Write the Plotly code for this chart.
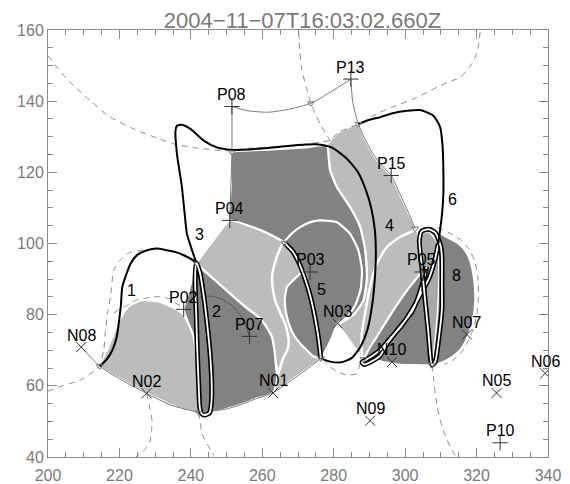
import plotly.graph_objects as go

TITLE = "2004\u221211\u221207T16:03:02.660Z"

# ---------------- shaded regions (data coordinates) ----------------
light_band4_x = [278.1, 279.0, 281.3, 284.0, 286.9, 288.5, 290.5, 293.0, 296.1, 298.5, 300.8, 302.8, 298.6, 294.9, 292.1, 290.2, 288.8, 287.9, 287.9, 288.3, 286.0, 283.5, 281.1, 285.5, 288.3, 289.3, 288.8, 287.4, 284.6, 280.9, 279.0, 278.6, 278.1]
light_band4_y = [127.5, 128.9, 131.2, 132.6, 133.6, 130.0, 126.0, 122.5, 119.1, 114.0, 109.0, 104.2, 101.8, 99.0, 94.3, 87.8, 80.3, 74.7, 69.1, 67.5, 70.5, 74.0, 77.5, 80.0, 84.0, 90.6, 98.1, 104.6, 110.2, 115.8, 120.5, 124.0, 127.5]

dark_top_x = [251.5, 258.0, 265.0, 272.0, 278.1, 278.6, 279.0, 280.9, 284.6, 287.4, 288.8, 289.3, 288.3, 285.5, 281.1, 276.0, 266.2, 260.5, 255.5, 250.9, 251.2, 251.5]
dark_top_y = [125.6, 126.2, 126.6, 127.0, 127.5, 124.0, 120.5, 115.8, 110.2, 104.6, 98.1, 90.6, 84.0, 80.0, 77.5, 85.0, 100.2, 103.3, 105.2, 106.5, 116.0, 125.6]

dark_circle5_x = [266.2, 268.5, 270.6, 273.5, 276.2, 280.9, 284.6, 286.9, 287.9, 287.6, 286.2, 284.0, 281.1, 279.5, 277.8, 276.4, 275.8, 274.8, 273.5, 272.0, 270.3, 268.5, 266.2]
dark_circle5_y = [100.2, 103.0, 104.6, 106.0, 106.5, 106.0, 102.7, 98.1, 92.5, 87.5, 83.0, 79.5, 77.5, 73.5, 70.0, 67.7, 73.0, 79.0, 85.0, 90.0, 94.5, 97.8, 100.2]

light_mid_x = [241.7, 246.0, 250.9, 255.5, 260.5, 266.2, 268.5, 270.3, 272.0, 273.5, 274.8, 275.8, 276.4, 273.0, 268.0, 263.0, 264.3, 263.6, 262.7, 259.4, 255.5, 252.0, 247.5, 243.0, 241.7]
light_mid_y = [94.3, 100.5, 106.5, 105.2, 103.3, 100.2, 97.8, 94.5, 90.0, 85.0, 79.0, 73.0, 67.7, 65.0, 61.5, 58.0, 62.5, 68.1, 73.7, 78.9, 82.0, 85.0, 89.0, 93.0, 94.3]

dark_blob5_x = [271.8, 270.6, 268.5, 266.9, 266.3, 266.4, 267.0, 267.8, 269.0, 270.6, 272.5, 274.3, 276.2, 275.9, 275.2, 274.2, 273.2, 272.5, 271.8]
dark_blob5_y = [92.3, 91.5, 89.5, 87.8, 84.5, 82.2, 79.0, 76.5, 74.0, 71.9, 70.0, 68.3, 67.8, 71.5, 76.5, 81.5, 86.0, 89.5, 92.3]

dark_left_x = [241.7, 243.0, 247.5, 252.0, 255.5, 259.4, 261.5, 262.7, 263.4, 263.6, 264.0, 264.3, 263.0, 258.0, 254.8, 250.0, 245.5, 242.2, 242.0, 241.5, 240.8, 239.5, 238.0, 239.2, 240.5, 241.7]
dark_left_y = [94.3, 93.0, 89.0, 85.0, 82.0, 78.9, 76.0, 73.7, 70.0, 68.1, 64.0, 62.5, 58.0, 56.3, 55.0, 53.5, 52.7, 52.5, 60.0, 68.0, 73.7, 77.0, 81.5, 86.0, 90.5, 94.3]

light_dome_x = [214.5, 216.5, 218.5, 220.0, 222.5, 226.0, 231.0, 235.5, 238.0, 239.5, 240.8, 241.5, 242.0, 242.2, 238.0, 234.3, 230.5, 226.8, 220.0, 214.5]
light_dome_y = [65.5, 70.0, 75.0, 78.5, 82.3, 84.0, 83.7, 81.8, 80.0, 77.0, 73.7, 68.0, 60.0, 52.5, 53.3, 54.6, 56.5, 58.3, 62.0, 65.5]

dark_circle8_x = [303.3, 306.1, 308.5, 311.7, 314.5, 316.8, 318.3, 319.1, 319.6, 319.6, 319.1, 318.2, 317.0, 315.4, 313.0, 310.7, 307.5, 302.3, 298.0, 295.8, 291.1, 288.3, 287.9, 287.9, 288.8, 290.2, 292.1, 294.9, 298.6, 303.3]
dark_circle8_y = [103.7, 103.9, 103.5, 101.8, 100.3, 98.1, 95.0, 91.5, 87.0, 83.1, 79.0, 75.6, 72.5, 70.0, 68.0, 66.7, 65.8, 65.8, 66.0, 66.3, 67.2, 67.5, 69.1, 74.7, 80.3, 87.8, 94.3, 99.0, 101.8, 103.7]

light_part7_x = [303.3, 298.6, 294.9, 292.1, 290.2, 288.8, 287.9, 287.9, 288.3, 290.2, 292.5, 294.9, 297.5, 300.5, 303.0, 305.0, 304.5, 303.8, 303.3]
light_part7_y = [103.7, 101.8, 99.0, 94.3, 87.8, 80.3, 74.7, 69.1, 67.5, 70.9, 74.5, 78.4, 82.5, 86.8, 90.0, 92.5, 97.0, 101.0, 103.7]

light_spindle_x = [304.6, 305.0, 305.6, 306.3, 307.5, 308.6, 309.3, 309.4, 308.6, 306.5, 304.6]
light_spindle_y = [102.5, 95.0, 85.0, 75.0, 66.0, 75.0, 85.0, 95.0, 101.0, 103.3, 102.5]

white_scurve_x = [265.5, 263.8, 262.7, 263.0, 263.6, 265.0, 266.4, 267.4, 267.0, 266.0, 264.8, 264.1]
white_scurve_y = [99.8, 95.5, 90.6, 87.0, 84.0, 80.5, 77.5, 72.8, 70.0, 68.1, 64.5, 61.6]

# ---------------- thin grey connection lines ----------------
thin_n08_x = [209.3, 214.5, 220.0, 227.6, 234.3, 242.2]
thin_n08_y = [70.9, 65.5, 62.0, 57.9, 54.6, 52.5]
thin_p08_x = [251.5, 251.5, 251.2, 250.9]
thin_p08_y = [138.5, 125.6, 116.0, 106.5]
thin_arc_x = [251.5, 256.0, 261.8, 267.8, 273.6, 279.0, 284.8]
thin_arc_y = [138.5, 137.3, 136.9, 137.8, 139.4, 142.5, 146.2]
thin_p13_x = [284.8, 285.3, 286.9, 290.5, 293.0, 296.1, 298.5, 300.8, 302.8]
thin_p13_y = [146.2, 140.0, 133.6, 126.0, 122.5, 119.1, 114.0, 109.0, 104.2]
thin_bottom_x = [242.2, 250.0, 254.8, 258.0, 263.0, 268.0, 273.0, 276.4]
thin_bottom_y = [52.5, 53.5, 55.0, 56.3, 58.0, 61.5, 65.0, 67.7]
thin_p07_x = [242.7, 245.5, 248.3, 252.0, 254.8, 256.4]
thin_p07_y = [85.0, 85.2, 84.5, 82.2, 78.4, 73.9]

# ---------------- dashed grey lines ----------------
dash_topleft_x = [200.0, 205.0, 211.9, 217.0, 223.1, 229.0, 235.2, 242.0, 249.2, 251.5, 258.0, 265.0, 272.0, 279.0]
dash_topleft_y = [152.8, 146.5, 140.1, 135.8, 132.6, 130.2, 128.0, 126.8, 126.1, 126.3, 126.9, 127.3, 127.9, 128.9]
dash_topright_x = [321.0, 320.5, 319.6, 318.0, 315.4, 312.0, 308.9, 302.3, 297.5, 293.0, 286.9, 281.3, 279.0]
dash_topright_y = [159.5, 155.5, 152.3, 149.5, 146.7, 145.3, 143.9, 140.6, 138.8, 136.9, 133.6, 131.2, 128.9]
dash_vert_x = [270.2, 270.5, 271.1, 272.3, 273.6, 276.2, 279.0]
dash_vert_y = [159.5, 154.0, 148.6, 144.0, 139.4, 133.6, 128.9]
dash_loop1_x = [200.0, 204.0, 209.1, 212.0, 214.2, 215.6, 216.1, 216.6, 217.5, 218.4, 220.0, 222.2, 225.9, 229.0]
dash_loop1_y = [58.5, 60.0, 61.6, 63.5, 65.3, 70.0, 75.6, 80.0, 85.0, 92.5, 95.0, 97.2, 98.1, 98.4]
dash_n02_x = [227.6, 228.5, 229.1, 229.0, 228.7, 227.5, 225.9, 224.5]
dash_n02_y = [57.9, 54.0, 50.4, 47.5, 44.8, 42.5, 41.0, 40.0]
dash_v242_x = [242.2, 242.6, 243.1, 244.2, 245.5, 246.5]
dash_v242_y = [52.5, 49.5, 46.6, 44.3, 42.0, 40.5]
dash_v307_x = [307.5, 308.0, 308.4, 309.0, 309.8, 310.7, 311.7, 313.1, 314.0]
dash_v307_y = [65.8, 61.5, 57.9, 54.0, 50.4, 47.5, 44.8, 42.0, 40.5]
dash_n03_x = [277.0, 279.0, 281.3, 283.7, 286.5, 287.4, 288.3]
dash_n03_y = [67.5, 65.3, 63.9, 63.0, 63.5, 66.3, 67.5]
dash_dome_x = [218.5, 220.0, 222.2, 224.5, 226.8, 229.0, 231.5, 234.0, 235.2, 237.0]
dash_dome_y = [80.5, 81.5, 82.6, 84.0, 84.5, 85.0, 85.0, 84.5, 83.6, 82.5]
dash_circ8_x = [306.0, 309.0, 312.3, 315.5, 317.8, 319.5, 320.3, 320.5, 320.1, 319.1, 317.6, 315.8, 313.5, 311.0]
dash_circ8_y = [104.5, 104.5, 103.0, 101.0, 98.5, 95.0, 91.0, 85.0, 80.0, 76.0, 72.5, 69.5, 67.3, 66.0]
dash_p07_x = [256.4, 254.0, 252.9, 253.4, 255.7, 259.0, 263.0]
dash_p07_y = [73.9, 73.5, 72.8, 68.1, 64.4, 61.6, 58.0]

# ---------------- thick black loops ----------------
loop1_x = [214.5, 216.5, 218.0, 219.2, 219.8, 220.4, 220.8, 222.0, 223.1, 225.0, 227.7, 230.5, 233.3, 236.0, 238.0, 240.0, 241.5]
loop1_y = [65.5, 67.5, 70.0, 73.5, 77.5, 82.5, 87.8, 91.5, 94.3, 96.8, 98.1, 98.6, 98.1, 97.5, 96.7, 95.7, 94.6]
loop3_x = [241.5, 240.2, 238.9, 238.2, 237.5, 236.8, 236.1, 235.7, 236.1, 237.5, 239.9, 243.6, 247.3, 251.5, 258.5, 265.0, 270.0, 275.0, 279.4, 283.5, 286.8, 289.0, 290.5, 291.5, 291.8, 291.5, 290.8, 289.5, 287.5, 285.0, 282.0, 279.0, 276.4]
loop3_y = [94.6, 98.5, 102.7, 109.0, 115.8, 120.5, 125.2, 131.7, 133.1, 133.4, 132.2, 128.9, 127.0, 126.3, 126.6, 127.2, 127.7, 127.9, 127.0, 124.0, 120.0, 115.0, 110.0, 104.0, 97.0, 90.0, 83.0, 76.0, 71.0, 67.8, 66.6, 66.8, 67.7]
loop6_x = [286.9, 290.0, 293.0, 296.5, 300.5, 304.2, 307.9, 309.8, 310.5, 310.7, 310.7, 310.3, 309.8, 309.3]
loop6_y = [133.6, 134.8, 135.5, 136.6, 137.3, 137.5, 135.9, 132.7, 127.0, 120.5, 114.0, 108.0, 104.0, 100.0]
double3_x = [241.5, 241.2, 241.5, 241.8, 242.2, 242.5, 243.0, 244.0, 245.3, 245.8, 245.8, 245.3, 244.5, 243.5, 242.5, 241.5]
double3_y = [94.6, 90.0, 80.0, 70.0, 60.0, 54.0, 52.2, 51.8, 52.5, 56.0, 62.0, 70.0, 78.0, 86.0, 92.0, 94.6]
double5_x = [266.2, 268.5, 270.3, 272.0, 273.5, 274.8, 275.8, 276.4]
double5_y = [100.2, 97.8, 94.5, 90.0, 85.0, 79.0, 73.0, 67.7]
double7_x = [309.3, 308.4, 306.8, 304.7, 302.0, 299.1, 296.0, 293.5, 291.0, 288.8, 287.9, 288.5, 290.5, 293.0, 295.3, 298.5, 301.9, 303.5, 304.7, 305.5, 306.0]
double7_y = [100.0, 95.7, 90.5, 86.4, 81.5, 77.0, 73.5, 70.5, 68.5, 67.2, 66.6, 66.0, 66.8, 68.5, 72.3, 76.5, 80.8, 84.5, 88.2, 91.0, 93.5]
double8_x = [307.5, 306.5, 305.5, 304.5, 304.0, 304.7, 306.5, 308.5, 310.0, 310.3, 310.3, 310.3, 309.5, 308.4, 307.5]
double8_y = [65.8, 75.0, 85.0, 95.0, 101.0, 103.5, 104.0, 103.0, 99.0, 95.7, 88.0, 81.7, 74.0, 66.7, 65.8]

# ---------------- labelled footpoints ----------------
p_names = ["P08", "P13", "P15", "P04", "P03", "P02", "P07", "P05", "P10"]
p_x = [251.5, 284.8, 296.1, 250.9, 273.4, 238.0, 256.4, 304.7, 326.6]
p_y = [138.5, 146.2, 119.1, 106.5, 92.0, 81.5, 73.9, 92.0, 44.0]
n_names = ["N08", "N02", "N01", "N03", "N10", "N07", "N06", "N05", "N09"]
n_x = [209.3, 227.6, 263.0, 281.1, 296.3, 317.3, 339.2, 325.6, 290.2]
n_y = [70.9, 57.9, 58.0, 77.5, 66.7, 74.4, 63.5, 58.0, 50.2]
vert_x = [214.5, 241.7, 251.5, 266.2, 242.2, 276.4, 288.3, 302.8, 307.5, 286.9, 273.6]
vert_y = [65.5, 94.3, 125.6, 100.2, 52.5, 67.7, 67.5, 104.2, 65.8, 133.6, 139.4]

region_names = ["1", "2", "3", "4", "5", "6", "7", "8"]
region_x = [223.5, 247.1, 242.5, 295.5, 276.7, 313.3, 305.1, 314.3]
region_y = [86.8, 80.8, 102.6, 105.1, 87.0, 112.3, 91.1, 91.1]

LIGHT = "#bcbcbc"
DARK = "#828282"
GREY = "#8a8a8a"
FONT = "Liberation Sans"

fig = go.Figure()


def poly(x, y, color, lw=2.2):
    fig.add_trace(go.Scatter(x=x, y=y, mode="lines", fill="toself", fillcolor=color,
                             line=dict(color="white", width=lw, shape="spline", smoothing=0.5),
                             hoverinfo="skip", showlegend=False))


def line(x, y, color, width, dash="solid", smooth=True):
    fig.add_trace(go.Scatter(x=x, y=y, mode="lines",
                             line=dict(color=color, width=width, dash=dash,
                                       shape="spline" if smooth else "linear", smoothing=0.6),
                             hoverinfo="skip", showlegend=False))


def double(x, y):
    line(x, y, "black", 5.0)
    line(x, y, "white", 1.8)


poly(light_band4_x, light_band4_y, LIGHT)
poly(dark_top_x, dark_top_y, DARK)
poly(dark_circle5_x, dark_circle5_y, DARK)
poly(light_mid_x, light_mid_y, LIGHT)
poly(dark_blob5_x, dark_blob5_y, DARK)
poly(dark_left_x, dark_left_y, DARK)
poly(light_dome_x, light_dome_y, LIGHT)
poly(dark_circle8_x, dark_circle8_y, DARK)
poly(light_part7_x, light_part7_y, LIGHT)
poly(light_spindle_x, light_spindle_y, "#a8a8a8", lw=1.5)
line(white_scurve_x, white_scurve_y, "white", 2.5)

for xs, ys in [(thin_n08_x, thin_n08_y), (thin_p08_x, thin_p08_y), (thin_arc_x, thin_arc_y),
               (thin_p13_x, thin_p13_y), (thin_bottom_x, thin_bottom_y)]:
    line(xs, ys, "#7a7a7a", 1.0)
line(thin_p07_x, thin_p07_y, "#555555", 1.0)

for xs, ys in [(dash_topleft_x, dash_topleft_y), (dash_topright_x, dash_topright_y),
               (dash_vert_x, dash_vert_y), (dash_loop1_x, dash_loop1_y),
               (dash_n02_x, dash_n02_y), (dash_v242_x, dash_v242_y),
               (dash_v307_x, dash_v307_y), (dash_n03_x, dash_n03_y),
               (dash_dome_x, dash_dome_y), (dash_circ8_x, dash_circ8_y),
               (dash_p07_x, dash_p07_y)]:
    line(xs, ys, GREY, 1.0, dash="6px,5px")

line(loop1_x, loop1_y, "black", 2.0)
line(loop3_x, loop3_y, "black", 2.0)
double(double3_x, double3_y)
double(double5_x, double5_y)
double(double7_x, double7_y)
double(double8_x, double8_y)
line(loop6_x, loop6_y, "black", 2.0)

fig.add_trace(go.Scatter(x=vert_x, y=vert_y, mode="markers",
                         marker=dict(symbol="triangle-down-open", size=6, color="#777777",
                                     line=dict(width=1)),
                         hoverinfo="skip", showlegend=False))
fig.add_trace(go.Scatter(x=p_x, y=p_y, mode="markers",
                         marker=dict(symbol="cross-thin", size=11, color="#333333",
                                     line=dict(width=1, color="#333333")),
                         hoverinfo="skip", showlegend=False))
fig.add_trace(go.Scatter(x=n_x, y=n_y, mode="markers",
                         marker=dict(symbol="x-thin", size=10, color="#333333",
                                     line=dict(width=1, color="#333333")),
                         hoverinfo="skip", showlegend=False))

for name, x, y in zip(p_names + n_names, p_x + n_x, p_y + n_y):
    fig.add_annotation(x=x, y=y, text=name, showarrow=False, yshift=12,
                       font=dict(family=FONT, size=16, color="black"))
for name, x, y in zip(region_names, region_x, region_y):
    fig.add_annotation(x=x, y=y, text=name, showarrow=False,
                       font=dict(family=FONT, size=16, color="black"))

axis_common = dict(showgrid=False, zeroline=False, showline=True, linecolor="#8c8c8c",
                   linewidth=1, mirror="ticks", ticks="inside", ticklen=9,
                   tickcolor="#8c8c8c", tickwidth=1, dtick=20, automargin=False,
                   tickfont=dict(family=FONT, size=16, color="#7a7a7a"))
fig.update_xaxes(range=[200, 340], tick0=200, ticklabelstandoff=4,
                 minor=dict(ticks="inside", ticklen=5, dtick=5, tick0=200, tickcolor="#8c8c8c"),
                 **axis_common)
fig.update_yaxes(range=[40, 160], tick0=40,
                 minor=dict(ticks="inside", ticklen=5, dtick=5, tick0=40, tickcolor="#8c8c8c"),
                 **axis_common)

# the page body adds an 8px offset, so the figure is sized to fit the 570x484 window
fig.update_layout(width=562, height=476, plot_bgcolor="white", paper_bgcolor="white",
                  margin=dict(l=40, r=22, t=22, b=27, autoexpand=False),
                  title=dict(text=TITLE, x=0.524, xref="container", xanchor="center",
                             y=1 - 12.5 / 476, yanchor="middle", yref="container",
                             font=dict(family=FONT, size=22, color="#7a7a7a")))

fig.write_html("out.html")
